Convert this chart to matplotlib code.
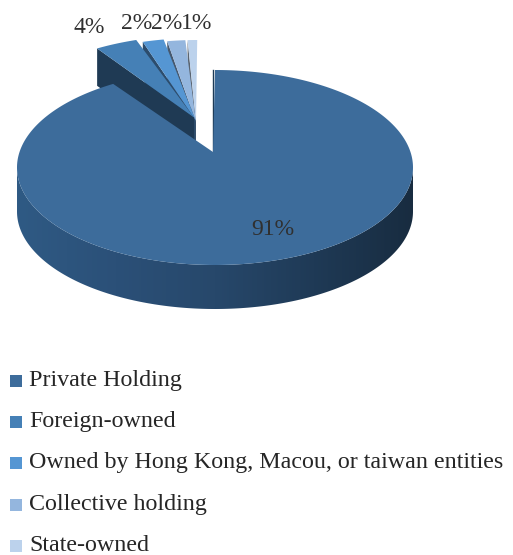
"""
Ownership share pie, drawn as a tilted 3D pie with one large slice
and the small slices pulled away from it.
"""

import numpy as np
import matplotlib
matplotlib.use('Agg')
import matplotlib.pyplot as plt
from matplotlib.colors import LinearSegmentedColormap
from matplotlib.patches import Polygon, Rectangle

plt.rcParams['font.family'] = ['Liberation Serif', 'DejaVu Serif']

# Data
categories = ['Private Holding', 'Foreign-owned',
              'Owned by Hong Kong, Macou, or taiwan entities',
              'Collective holding', 'State-owned']
shares = [91.4, 4.0, 2.0, 1.7, 0.9]

# Styles
top_colors = ['#3d6c9b', '#4580b6', '#5596d3', '#94b6de', '#bcd2ec']
wall_colors = ['#1e3a55', '#1f3a54', '#2c4c6c', '#46586e', '#5a6470']
side_cmap = LinearSegmentedColormap.from_list(
    'side', ['#2f5a84', '#2b5078', '#27486b', '#1f3a56', '#182c40'])

# Layout, in image pixels
CX, CY, RX, RY = 215, 167.5, 198, 97.5
APEX = np.array([213.0, 152.0])
DEPTH = 44
SMALL_SHIFT = np.array([-17.0, -30.0])
SLICE_GAP = 0.86
EXPLODE = [0, 5, 2, 0, 0]
LABEL_XY = [(273, 235), (89, 33), (137, 29), (167, 29), (196.5, 29)]
LEGEND_Y = [381, 422, 463, 505, 546]


def rim(theta):
    return np.column_stack([CX + RX * np.sin(theta), CY - RY * np.cos(theta)])


fig = plt.figure(figsize=(5.13, 5.55), dpi=100)
ax = fig.add_axes([0, 0, 1, 1])
ax.set_xlim(0, 513)
ax.set_ylim(555, 0)
ax.axis('off')

edges = np.cumsum([0] + shares) / sum(shares) * 2 * np.pi

# small slices from right to left, each top covers the wall of its neighbour
for i in range(len(shares) - 1, 0, -1):
    mid = (edges[i] + edges[i + 1]) / 2
    half = (edges[i + 1] - edges[i]) / 2 * SLICE_GAP
    th = np.linspace(mid - half, mid + half, 20)
    shift = SMALL_SHIFT + EXPLODE[i] * np.array([np.sin(mid), -np.cos(mid)])
    tip = APEX + shift
    arc = tip + rim(th) - APEX
    down = np.array([0, DEPTH * 0.85])
    wall = np.array([arc[0], tip, tip + down, arc[0] + down])
    z = 8 - i
    ax.add_patch(Polygon(wall, closed=True, fc=wall_colors[i], ec='none', zorder=z))
    ax.add_patch(Polygon(np.vstack([tip, arc]), closed=True, fc=top_colors[i],
                         ec='none', zorder=z))

# big slice: outer wall, shaded left to right and clipped to the wall outline
th = np.linspace(np.pi / 2, 3 * np.pi / 2, 240)
lower = rim(th)
outline = np.vstack([lower, lower[::-1] + [0, DEPTH]])
side_clip = Polygon(outline, closed=True, fc='none', ec='none', zorder=10)
ax.add_patch(side_clip)
img = ax.imshow(np.linspace(0, 1, 256).reshape(1, -1), cmap=side_cmap, aspect='auto',
                extent=[CX - RX, CX + RX, CY + RY + DEPTH, CY], zorder=10)
img.set_clip_path(side_clip)
ax.set_xlim(0, 513)
ax.set_ylim(555, 0)

# cut wall seen along the right edge of the notch
ax.plot([APEX[0], APEX[0]], [CY - RY, APEX[1]], color=wall_colors[0], lw=1, zorder=11)

th = np.linspace(edges[0], edges[1], 300)
ax.add_patch(Polygon(np.vstack([APEX, rim(th)]), closed=True, fc=top_colors[0],
                     ec='none', zorder=12))

for share, (x, y) in zip(shares, LABEL_XY):
    ax.text(x, y, f'{share:.0f}%', fontsize=17, color='#303030', ha='center',
            va='baseline', zorder=20)

for name, color, y in zip(categories, top_colors, LEGEND_Y):
    ax.add_patch(Rectangle((10, y - 6), 12, 12, fc=color, ec='none'))
    ax.text(29, y + 5, name, fontsize=17.3, color='#262626', ha='left', va='baseline')

fig.savefig('out.png', dpi=100)
plt.close(fig)
